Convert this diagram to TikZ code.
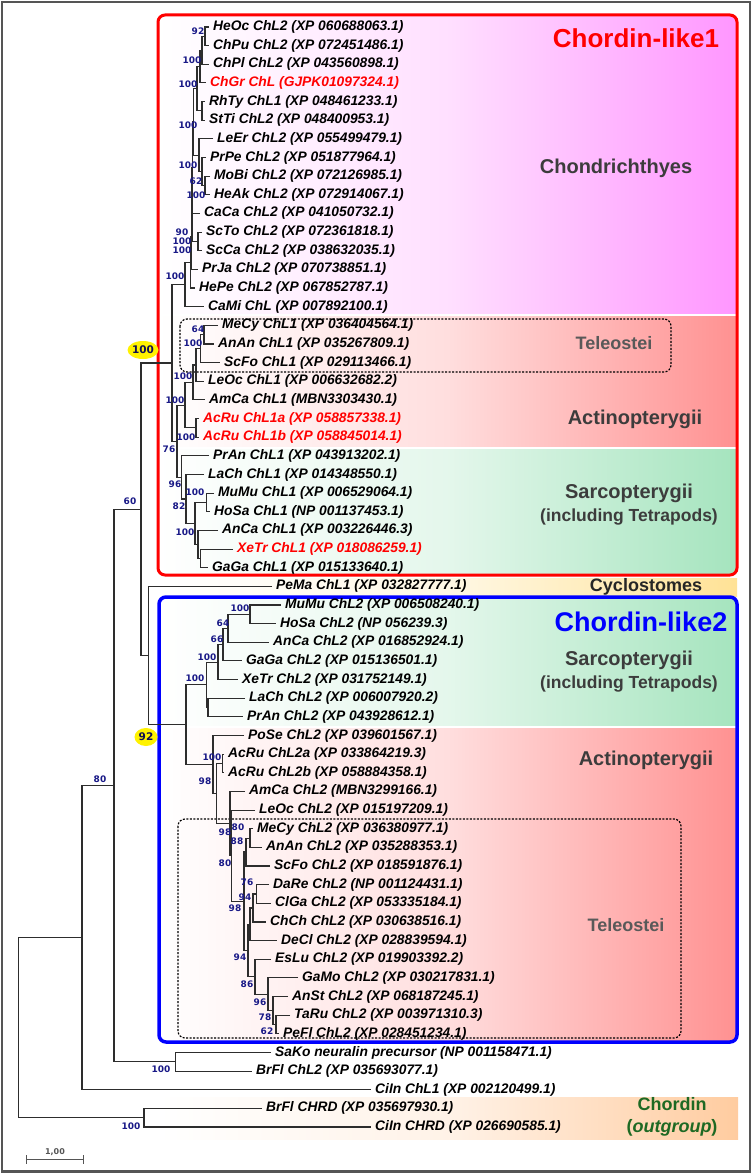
\documentclass[tikz,border=0pt]{standalone}
\usepackage{fontspec}
\setmainfont{Liberation Sans}
\newfontfamily\bsfont{DejaVu Sans}
\usetikzlibrary{shapes.geometric}

\definecolor{bsblue}{RGB}{25,25,135}
\definecolor{branchgray}{RGB}{45,45,45}
\definecolor{framegray}{RGB}{85,85,85}
\definecolor{chondfill}{RGB}{255,150,255}
\definecolor{actfill}{RGB}{255,145,145}
\definecolor{sarcfill}{RGB}{165,228,190}
\definecolor{cyclofill}{RGB}{255,226,150}
\definecolor{chrdfill}{RGB}{255,204,160}
\definecolor{labelgray}{RGB}{60,60,60}
\definecolor{chrdgreen}{RGB}{30,105,35}

\tikzset{
  leaf/.style={anchor=west, inner xsep=4pt, inner ysep=0pt,
    font=\fontsize{13.8}{14}\selectfont\bfseries\itshape},
  redleaf/.style={leaf, text=red},
  bs/.style={inner sep=0pt, text=bsblue,
    font=\bsfont\fontsize{9}{9}\selectfont\bfseries},
  bsbig/.style={ellipse, fill=yellow, inner sep=0pt, minimum width=27pt,
    minimum height=18pt, text=bsblue!60!black,
    font=\bsfont\fontsize{10.5}{10.5}\selectfont\bfseries},
  branch/.style={draw=branchgray, line width=1.1pt},
  group/.style={align=center, text=labelgray,
    font=\fontsize{20}{23}\selectfont\bfseries},
  telebox/.style={draw=black, line width=1.2pt, dash pattern=on 2pt off 1.5pt,
    rounded corners=7pt},
}

\begin{document}
\begin{tikzpicture}[x=1pt, y=-1pt]
  \useasboundingbox (0,0) rectangle (754,1174);
  \fill[white] (0,0) rectangle (754,1174);

  % Coloured bands
  \begin{scope}
    \clip[rounded corners=7pt] (158,15) rectangle (737,575);
    \shade[left color=white, right color=chondfill, middle color=chondfill!30] (158,15) rectangle (737,315);
    \shade[left color=white, right color=actfill, middle color=actfill!30] (158,315) rectangle (737,448);
    \shade[left color=white, right color=sarcfill, middle color=sarcfill!30] (158,448) rectangle (737,575);
  \end{scope}
  \begin{scope}
    \clip[rounded corners=7pt] (159,597) rectangle (737,1042);
    \shade[left color=white, right color=sarcfill, middle color=sarcfill!30] (159,597) rectangle (737,727);
    \shade[left color=white, right color=actfill, middle color=actfill!30] (159,727) rectangle (737,1042);
  \end{scope}
  \shade[left color=white, right color=cyclofill, middle color=cyclofill!25] (158,578) rectangle (737,596);
  \shade[left color=white, right color=chrdfill, middle color=chrdfill!25] (158,1097) rectangle (738,1139);
  \draw[white, line width=2.5pt] (158,315) -- (737,315);
  \draw[white, line width=2.5pt] (158,448) -- (737,448);
  \draw[white, line width=2.5pt] (159,727) -- (737,727);

  % Outer frame and clade boxes
  \draw[framegray, line width=2.5pt] (2,2) rectangle (750,1171.5);
  \draw[red, line width=3pt, rounded corners=7pt] (158,15) rectangle (737,575);
  \draw[blue, line width=3.5pt, rounded corners=7pt] (159,597) rectangle (737,1042);
  \draw[telebox] (180,319) rectangle (671,372);
  \draw[telebox] (178,819) rectangle (681,1038);

  % Group names
  \node[text=red, font=\fontsize{26}{26}\selectfont\bfseries] (chl1) at (636,38) {Chordin-like1};
  \node[group] (chond) at (616,168) {Chondrichthyes};
  \node[group, text=labelgray!85, font=\fontsize{18}{20}\selectfont\bfseries] (tele1) at (614,343) {Teleostei};
  \node[group] (acti1) at (635,419) {Actinopterygii};
  \node[group] (sarc1) at (629,505) {Sarcopterygii\\{\fontsize{17.5}{20}\selectfont (including Tetrapods)}};
  \node[group, text=black!85, font=\fontsize{18}{20}\selectfont\bfseries] (cyclo) at (646,587) {Cyclostomes};
  \node[text=blue, font=\fontsize{27}{27}\selectfont\bfseries] (chl2) at (641,622) {Chordin-like2};
  \node[group] (sarc2) at (629,672) {Sarcopterygii\\{\fontsize{17.5}{20}\selectfont (including Tetrapods)}};
  \node[group] (acti2) at (646,760) {Actinopterygii};
  \node[group, text=labelgray!85, font=\fontsize{18}{20}\selectfont\bfseries] (tele2) at (626,925) {Teleostei};
  \node[group, text=chrdgreen, font=\fontsize{18}{22}\selectfont\bfseries] (chrd) at (672,1117) {Chordin\\(\textit{outgroup})};

  % Leaves
  \node[leaf] (heoc) at (209,27.0) {HeOc ChL2 (XP 060688063.1)};
  \node[leaf] (chpu) at (209,45.6) {ChPu ChL2 (XP 072451486.1)};
  \node[leaf] (chpl) at (209,64.3) {ChPl ChL2 (XP 043560898.1)};
  \node[redleaf] (chgr) at (206,82.9) {ChGr ChL (GJPK01097324.1)};
  \node[leaf] (rhty) at (205,101.6) {RhTy ChL1 (XP 048461233.1)};
  \node[leaf] (stti) at (205,120.2) {StTi ChL2 (XP 048400953.1)};
  \node[leaf] (leer) at (213,138.9) {LeEr ChL2 (XP 055499479.1)};
  \node[leaf] (prpe) at (206,157.5) {PrPe ChL2 (XP 051877964.1)};
  \node[leaf] (mobi) at (210,176.2) {MoBi ChL2 (XP 072126985.1)};
  \node[leaf] (heak) at (210,194.8) {HeAk ChL2 (XP 072914067.1)};
  \node[leaf] (caca) at (200,213.4) {CaCa ChL2 (XP 041050732.1)};
  \node[leaf] (scto) at (202,232.1) {ScTo ChL2 (XP 072361818.1)};
  \node[leaf] (scca) at (202,250.7) {ScCa ChL2 (XP 038632035.1)};
  \node[leaf] (prja) at (198,269.4) {PrJa ChL2 (XP 070738851.1)};
  \node[leaf] (hepe) at (195,288.0) {HePe ChL2 (XP 067852787.1)};
  \node[leaf] (cami) at (204,306.7) {CaMi ChL (XP 007892100.1)};
  \node[leaf] (mecy1) at (218,325.3) {MeCy ChL1 (XP 036404564.1)};
  \node[leaf] (anan1) at (214,344.0) {AnAn ChL1 (XP 035267809.1)};
  \node[leaf] (scfo1) at (220,362.6) {ScFo ChL1 (XP 029113466.1)};
  \node[leaf] (leoc1) at (204,381.2) {LeOc ChL1 (XP 006632682.2)};
  \node[leaf] (amca1) at (205,399.9) {AmCa ChL1 (MBN3303430.1)};
  \node[redleaf] (acru1a) at (199,418.5) {AcRu ChL1a (XP 058857338.1)};
  \node[redleaf] (acru1b) at (199,437.2) {AcRu ChL1b (XP 058845014.1)};
  \node[leaf] (pran1) at (209,455.8) {PrAn ChL1 (XP 043913202.1)};
  \node[leaf] (lach1) at (204,474.5) {LaCh ChL1 (XP 014348550.1)};
  \node[leaf] (mumu1) at (214,493.1) {MuMu ChL1 (XP 006529064.1)};
  \node[leaf] (hosa1) at (210,511.8) {HoSa ChL1 (NP 001137453.1)};
  \node[leaf] (anca1) at (218,530.4) {AnCa ChL1 (XP 003226446.3)};
  \node[redleaf] (xetr1) at (233,549.1) {XeTr ChL1 (XP 018086259.1)};
  \node[leaf] (gaga1) at (208,567.7) {GaGa ChL1 (XP 015133640.1)};
  \node[leaf] (pema) at (272,586.3) {PeMa ChL1 (XP 032827777.1)};
  \node[leaf] (mumu2) at (281,605.0) {MuMu ChL2 (XP 006508240.1)};
  \node[leaf] (hosa2) at (276,623.6) {HoSa ChL2 (NP 056239.3)};
  \node[leaf] (anca2) at (269,642.3) {AnCa ChL2 (XP 016852924.1)};
  \node[leaf] (gaga2) at (242,660.9) {GaGa ChL2 (XP 015136501.1)};
  \node[leaf] (xetr2) at (238,679.6) {XeTr ChL2 (XP 031752149.1)};
  \node[leaf] (lach2) at (245,698.2) {LaCh ChL2 (XP 006007920.2)};
  \node[leaf] (pran2) at (243,716.9) {PrAn ChL2 (XP 043928612.1)};
  \node[leaf] (pose) at (244,735.5) {PoSe ChL2 (XP 039601567.1)};
  \node[leaf] (acru2a) at (224,754.2) {AcRu ChL2a (XP 033864219.3)};
  \node[leaf] (acru2b) at (224,772.8) {AcRu ChL2b (XP 058884358.1)};
  \node[leaf] (amca2) at (245,791.4) {AmCa ChL2 (MBN3299166.1)};
  \node[leaf] (leoc2) at (255,810.1) {LeOc ChL2 (XP 015197209.1)};
  \node[leaf] (mecy2) at (253,828.7) {MeCy ChL2 (XP 036380977.1)};
  \node[leaf] (anan2) at (262,847.4) {AnAn ChL2 (XP 035288353.1)};
  \node[leaf] (scfo2) at (270,866.0) {ScFo ChL2 (XP 018591876.1)};
  \node[leaf] (dare) at (269,884.7) {DaRe ChL2 (NP 001124431.1)};
  \node[leaf] (clga) at (271,903.3) {ClGa ChL2 (XP 053335184.1)};
  \node[leaf] (chch) at (266,922.0) {ChCh ChL2 (XP 030638516.1)};
  \node[leaf] (decl) at (277,940.6) {DeCl ChL2 (XP 028839594.1)};
  \node[leaf] (eslu) at (271,959.2) {EsLu ChL2 (XP 019903392.2)};
  \node[leaf] (gamo) at (298,977.9) {GaMo ChL2 (XP 030217831.1)};
  \node[leaf] (anst) at (288,996.5) {AnSt ChL2 (XP 068187245.1)};
  \node[leaf] (taru) at (290,1015.2) {TaRu ChL2 (XP 003971310.3)};
  \node[leaf] (pefl) at (279,1033.8) {PeFl ChL2 (XP 028451234.1)};
  \node[leaf] (sako) at (271,1052.5) {SaKo neuralin precursor (NP 001158471.1)};
  \node[leaf] (brfl2) at (252,1071.1) {BrFl ChL2 (XP 035693077.1)};
  \node[leaf] (ciin1) at (371,1089.8) {CiIn ChL1 (XP 002120499.1)};
  \node[leaf] (brflchrd) at (262,1108.4) {BrFl CHRD (XP 035697930.1)};
  \node[leaf] (ciinchrd) at (371,1127.0) {CiIn CHRD (XP 026690585.1)};

  % Inner nodes
  \coordinate (S1) at (205,36.3);
  \coordinate (S2) at (202,50.3);
  \coordinate (S3) at (200,66.6);
  \coordinate (S4) at (202,110.9);
  \coordinate (S5) at (197,88.8);
  \coordinate (R1) at (205,185.5);
  \coordinate (R2) at (202,171.5);
  \coordinate (R3) at (199,155.2);
  \coordinate (SR) at (193.5,122.0);
  \coordinate (G1) at (192.5,167.7);
  \coordinate (Sc) at (198,241.4);
  \coordinate (G2) at (192,204.6);
  \coordinate (G3) at (191.5,237.0);
  \coordinate (G4) at (190.7,262.5);
  \coordinate (C0) at (185,284.6);
  \coordinate (M) at (204,334.7);
  \coordinate (T) at (200.7,348.7);
  \coordinate (U) at (196,365.0);
  \coordinate (ActB) at (193,382.5);
  \coordinate (AcP) at (196,427.9);
  \coordinate (ActA) at (185,405.2);
  \coordinate (P) at (206.7,502.5);
  \coordinate (R) at (200.5,558.4);
  \coordinate (Q) at (198,544.4);
  \coordinate (SarC) at (195,523.5);
  \coordinate (SarB) at (186,499.0);
  \coordinate (SarA) at (181.7,477.4);
  \coordinate (O) at (177,441.3);
  \coordinate (A1) at (172,363.0);
  \coordinate (MH) at (250,614.3);
  \coordinate (MA) at (228,628.3);
  \coordinate (Am) at (223,644.6);
  \coordinate (T4) at (218,662.1);
  \coordinate (LC) at (208,707.6);
  \coordinate (SarK) at (206.7,684.9);
  \coordinate (AcP2) at (222.7,763.5);
  \coordinate (MA2) at (250,838.1);
  \coordinate (MAS) at (246,852.0);
  \coordinate (DC) at (256.7,894.0);
  \coordinate (DCC) at (253,908.0);
  \coordinate (DCCD) at (250,924.3);
  \coordinate (P1) at (276,1024.5);
  \coordinate (P2) at (273,1010.5);
  \coordinate (P3) at (268,994.2);
  \coordinate (EN) at (255,976.7);
  \coordinate (OT) at (248,950.5);
  \coordinate (TT) at (244,901.3);
  \coordinate (AK4) at (231.7,855.7);
  \coordinate (AK3) at (230,823.6);
  \coordinate (AK2) at (216.7,793.6);
  \coordinate (ActK) at (213,764.6);
  \coordinate (K0) at (186,724.8);
  \coordinate (N92) at (148.3,655.6);
  \coordinate (N60) at (141,509.3);
  \coordinate (SB) at (175.7,1061.8);
  \coordinate (N80) at (114,785.6);
  \coordinate (N82) at (82,937.7);
  \coordinate (CH) at (144,1117.7);
  \coordinate (root) at (18.3,1027.7);

  % Branches
  \draw[branch] (heoc.west) -| (S1) |- (chpu.west);
  \draw[branch] (S1) -| (S2) |- (chpl.west);
  \draw[branch] (S2) -| (S3) |- (chgr.west);
  \draw[branch] (rhty.west) -| (S4) |- (stti.west);
  \draw[branch] (S3) -| (S5) |- (S4);
  \draw[branch] (mobi.west) -| (R1) |- (heak.west);
  \draw[branch] (prpe.west) -| (R2) |- (R1);
  \draw[branch] (leer.west) -| (R3) |- (R2);
  \draw[branch] (S5) -| (SR) |- (R3);
  \draw[branch] (SR) -| (G1) |- (caca.west);
  \draw[branch] (scto.west) -| (Sc) |- (scca.west);
  \draw[branch] (G1) -| (G2) |- (Sc);
  \draw[branch] (G2) -| (G3) |- (prja.west);
  \draw[branch] (G3) -| (G4) |- (hepe.west);
  \draw[branch] (G4) -| (C0) |- (cami.west);
  \draw[branch] (mecy1.west) -| (M) |- (anan1.west);
  \draw[branch] (M) -| (T) |- (scfo1.west);
  \draw[branch] (T) -| (U) |- (leoc1.west);
  \draw[branch] (U) -| (ActB) |- (amca1.west);
  \draw[branch] (acru1a.west) -| (AcP) |- (acru1b.west);
  \draw[branch] (ActB) -| (ActA) |- (AcP);
  \draw[branch] (mumu1.west) -| (P) |- (hosa1.west);
  \draw[branch] (xetr1.west) -| (R) |- (gaga1.west);
  \draw[branch] (anca1.west) -| (Q) |- (R);
  \draw[branch] (P) -| (SarC) |- (Q);
  \draw[branch] (lach1.west) -| (SarB) |- (SarC);
  \draw[branch] (pran1.west) -| (SarA) |- (SarB);
  \draw[branch] (ActA) -| (O) |- (SarA);
  \draw[branch] (C0) -| (A1) |- (O);
  \draw[branch] (mumu2.west) -| (MH) |- (hosa2.west);
  \draw[branch] (MH) -| (MA) |- (anca2.west);
  \draw[branch] (MA) -| (Am) |- (gaga2.west);
  \draw[branch] (Am) -| (T4) |- (xetr2.west);
  \draw[branch] (lach2.west) -| (LC) |- (pran2.west);
  \draw[branch] (T4) -| (SarK) |- (LC);
  \draw[branch] (acru2a.west) -| (AcP2) |- (acru2b.west);
  \draw[branch] (mecy2.west) -| (MA2) |- (anan2.west);
  \draw[branch] (MA2) -| (MAS) |- (scfo2.west);
  \draw[branch] (dare.west) -| (DC) |- (clga.west);
  \draw[branch] (DC) -| (DCC) |- (chch.west);
  \draw[branch] (DCC) -| (DCCD) |- (decl.west);
  \draw[branch] (taru.west) -| (P1) |- (pefl.west);
  \draw[branch] (anst.west) -| (P2) |- (P1);
  \draw[branch] (gamo.west) -| (P3) |- (P2);
  \draw[branch] (eslu.west) -| (EN) |- (P3);
  \draw[branch] (DCCD) -| (OT) |- (EN);
  \draw[branch] (MAS) -| (TT) |- (OT);
  \draw[branch] (leoc2.west) -| (AK4) |- (TT);
  \draw[branch] (amca2.west) -| (AK3) |- (AK4);
  \draw[branch] (AcP2) -| (AK2) |- (AK3);
  \draw[branch] (pose.west) -| (ActK) |- (AK2);
  \draw[branch] (SarK) -| (K0) |- (ActK);
  \draw[branch] (pema.west) -| (N92) |- (K0);
  \draw[branch] (A1) -| (N60) |- (N92);
  \draw[branch] (sako.west) -| (SB) |- (brfl2.west);
  \draw[branch] (N60) -| (N80) |- (SB);
  \draw[branch] (N80) -| (N82) |- (ciin1.west);
  \draw[branch] (brflchrd.west) -| (CH) |- (ciinchrd.west);
  \draw[branch] (N82) -| (root) |- (CH);

  % Bootstrap values
  \node[bs] (bS1) at (198,31) {92};
  \node[bs] (bS2) at (192,60) {100};
  \node[bs] (bS3) at (188,84) {100};
  \node[bs] (bSR) at (188,125) {100};
  \node[bs] (bR3) at (188,165) {100};
  \node[bs] (bR1) at (196,181) {62};
  \node[bs] (bR2) at (196,195) {100};
  \node[bs] (bSc) at (182,232) {90};
  \node[bs] (bG2) at (182,241) {100};
  \node[bs] (bG3) at (182,250) {100};
  \node[bs] (bC0) at (175,276) {100};
  \node[bsbig] (bA1) at (143,350) {100};
  \node[bs] (bM) at (198,329) {64};
  \node[bs] (bT) at (193,343) {100};
  \node[bs] (bActB) at (183,376) {100};
  \node[bs] (bActA) at (175,400) {100};
  \node[bs] (bAcP) at (186,437) {100};
  \node[bs] (bO) at (169,449) {76};
  \node[bs] (bSarA) at (175,484) {96};
  \node[bs] (bP) at (195,492) {100};
  \node[bs] (bSarB) at (179,506) {82};
  \node[bs] (bQ) at (185,532) {100};
  \node[bs] (bN60) at (130,501) {60};
  \node[bs] (bMH) at (240,608) {100};
  \node[bs] (bMA) at (223,623) {64};
  \node[bs] (bAm) at (217,639) {66};
  \node[bs] (bT4) at (207,657) {100};
  \node[bs] (bSarK) at (195,678) {100};
  \node[bsbig, minimum width=23pt] (bK0) at (146,737) {92};
  \node[bs] (bAcP2) at (212,757) {100};
  \node[bs] (bAK2) at (205,781) {98};
  \node[bs] (bAK3) at (225,832) {98};
  \node[bs] (bMA2) at (238,827) {80};
  \node[bs] (bMAS) at (237,841) {88};
  \node[bs] (bAK4) at (225,863) {80};
  \node[bs] (bDC) at (247,882) {76};
  \node[bs] (bDCC) at (245,897) {94};
  \node[bs] (bTT) at (235,908) {98};
  \node[bs] (bOT) at (240,957) {94};
  \node[bs] (bEN) at (247,984) {86};
  \node[bs] (bP3) at (260,1002) {96};
  \node[bs] (bP2) at (265,1017) {78};
  \node[bs] (bP1) at (267,1031) {62};
  \node[bs] (bSB) at (161,1069) {100};
  \node[bs] (bN80) at (100,779) {80};
  \node[bs] (bCH) at (131,1126) {100};

  % Scale bar
  \coordinate (scaleL) at (26,1159.5);
  \coordinate (scaleR) at (84,1159.5);
  \draw[framegray, line width=1.2pt, |-|] (scaleL) -- (scaleR);
  \node[inner sep=0pt, text=framegray, font=\bsfont\fontsize{8}{8}\selectfont\bfseries] (scalelab) at (55,1152) {1,00};
\end{tikzpicture}
\end{document}
